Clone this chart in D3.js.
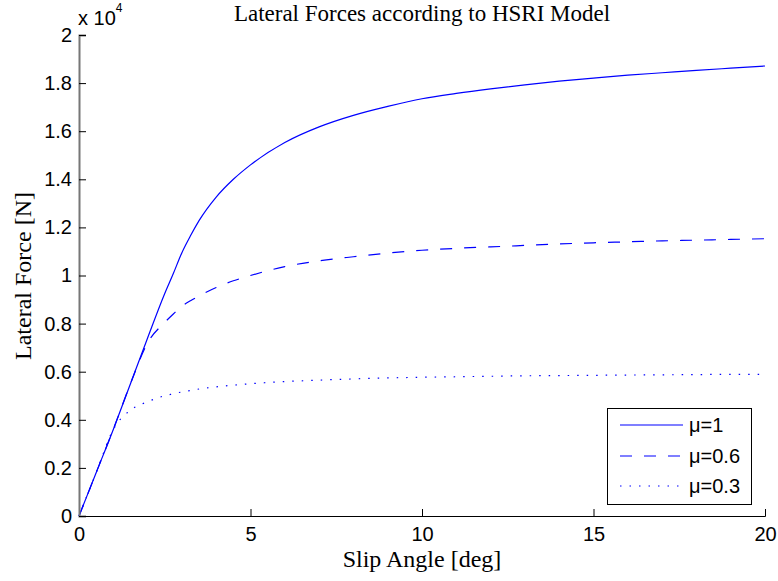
<!DOCTYPE html>
<html><head><meta charset="utf-8">
<script src="https://cdn.jsdelivr.net/npm/d3@7"></script>
<style>body{margin:0;background:#fff}</style>
</head><body>
<svg id="c" width="778" height="581"></svg>
<script>
const slipAngle = [0,0.5,1,1.5,2,2.5,2.75,3,3.25,3.5,4,4.5,5,6,7,8,9,10,11,12,13,14,15,16,17,18,19,20];
const forceMu1  = [0,0.18,0.36,0.55,0.74,0.925,1.008,1.095,1.165,1.228,1.326,1.400,1.460,1.553,1.618,1.666,1.703,1.735,1.757,1.776,1.793,1.808,1.821,1.833,1.843,1.853,1.862,1.871];
const forceMu06 = [0,0.18,0.36,0.55,0.72,0.805,0.84,0.872,0.895,0.915,0.95,0.978,1.0,1.037,1.061,1.078,1.093,1.105,1.113,1.119,1.125,1.131,1.136,1.140,1.144,1.147,1.150,1.153];
const forceMu03 = [0,0.18,0.36,0.44,0.475,0.50,0.508,0.516,0.522,0.528,0.537,0.544,0.55,0.559,0.565,0.570,0.574,0.577,0.579,0.581,0.583,0.584,0.585,0.586,0.587,0.588,0.589,0.589];
const seriesNames = ["μ=1","μ=0.6","μ=0.3"];
const xTicks = [0,5,10,15,20];
const yTicks = [0,0.2,0.4,0.6,0.8,1,1.2,1.4,1.6,1.8,2];

const svg = d3.select("#c");
const L=79,R=765,T=35,B=516;
const x = d3.scaleLinear().domain([0,20]).range([L,R]);
const y = d3.scaleLinear().domain([0,2]).range([B,T]);
const sans = "'Liberation Sans', Arial, Helvetica, sans-serif";
const serif = "'Liberation Serif', 'Times New Roman', serif";

const series = [forceMu1, forceMu06, forceMu03];
const dashes = [null, "12,12", "1.5,8"];
const line = d3.line().x(d=>x(d[0])).y(d=>y(d[1])).curve(d3.curveMonotoneX);
series.forEach((s,i)=>{
  svg.append("path").datum(slipAngle.map((a,j)=>[a,s[j]]))
    .attr("d",line).attr("fill","none").attr("stroke","#0000ff")
    .attr("stroke-width",1.2).attr("stroke-dasharray",dashes[i]);
});

// axes
const xAxis = d3.axisBottom(x).tickValues(xTicks).tickSizeInner(-7).tickSizeOuter(-7).tickPadding(11).tickFormat(d3.format("d"));
const gx = svg.append("g").attr("transform",`translate(0,${B})`).call(xAxis);
gx.select(".domain").attr("stroke","#000");
gx.selectAll("text").attr("font-family",sans).attr("font-size",20).attr("fill","#000");

const yAxis = d3.axisLeft(y).tickValues(yTicks).tickSizeInner(-7).tickSizeOuter(-7).tickPadding(7).tickFormat(d=>d3.format("~g")(d));
const gy = svg.append("g").attr("transform",`translate(${L},0)`).call(yAxis);
gy.select(".domain").attr("stroke","#777").attr("stroke-width",2);
gy.selectAll("text").attr("font-family",sans).attr("font-size",20).attr("fill","#000");

// exponent label
const ex = svg.append("text").attr("x",78).attr("y",25).attr("font-family",sans).attr("font-size",20);
ex.append("tspan").text("x 10");
ex.append("tspan").attr("dy",-13).attr("font-size",12).text("4");

// title and labels
svg.append("text").attr("x",422).attr("y",20.5).attr("text-anchor","middle")
  .attr("font-family",serif).attr("font-size",23).text("Lateral Forces according to HSRI Model");
svg.append("text").attr("x",422).attr("y",567).attr("text-anchor","middle")
  .attr("font-family",serif).attr("font-size",24).text("Slip Angle [deg]");
svg.append("text").attr("transform","translate(31,276) rotate(-90)").attr("text-anchor","middle")
  .attr("font-family",serif).attr("font-size",24).text("Lateral Force [N]");

// legend
const lg = svg.append("g");
lg.append("rect").attr("x",607.5).attr("y",408.5).attr("width",144).attr("height",96)
  .attr("fill","#fff").attr("stroke","#000").attr("stroke-width",1);
const rows=[425,456,486];
seriesNames.forEach((n,i)=>{
  lg.append("line").attr("x1",620).attr("x2",683).attr("y1",rows[i]).attr("y2",rows[i])
    .attr("stroke","#0000ff").attr("stroke-width",1.2).attr("stroke-dasharray",dashes[i]);
  lg.append("text").attr("x",689).attr("y",rows[i]+7).attr("font-family",sans).attr("font-size",20).text(n);
});
</script>
</body></html>
